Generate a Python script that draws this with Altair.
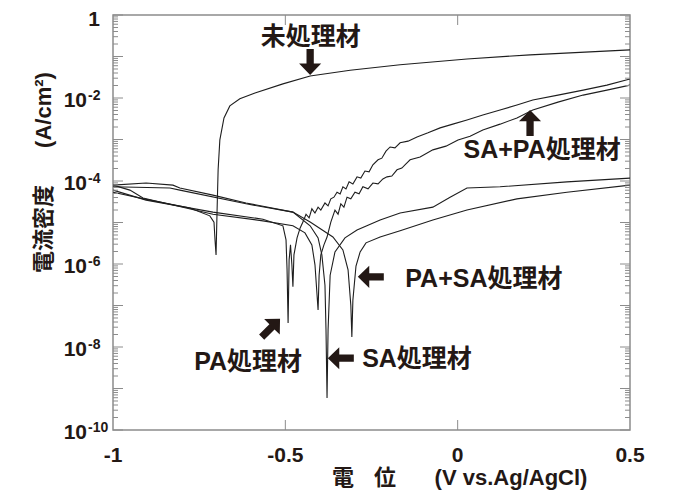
import altair as alt
import pandas as pd

# ---- data: potential (V vs Ag/AgCl) and log10 of current density (A/cm2) ----
ut_E = [-1.000, -0.893, -0.777, -0.719, -0.707, -0.704, -0.701, -0.698, -0.695, -0.690, -0.678, -0.661,
        -0.632, -0.588, -0.507, -0.428, -0.312, -0.167, 0.027, 0.210, 0.500]
ut_L = [-4.27, -4.46, -4.65, -4.84, -4.99, -5.42, -5.78, -4.70, -3.73, -3.01, -2.48, -2.19,
        -2.02, -1.88, -1.66, -1.47, -1.33, -1.20, -1.06, -0.96, -0.84]

pa_E = [-1.000, -0.904, -0.710, -0.565, -0.507, -0.498, -0.495, -0.492, -0.489, -0.485, -0.481, -0.478,
        -0.475, -0.466, -0.457,
        -0.449, -0.440, -0.431, -0.423, -0.414, -0.405, -0.397, -0.385, -0.376, -0.368,
        -0.359, -0.350, -0.341, -0.333, -0.324, -0.315, -0.304, -0.292, -0.281, -0.269,
        -0.257, -0.246, -0.231, -0.220, -0.208, -0.196, -0.182, -0.167, -0.144, -0.118,
        -0.086, -0.051, -0.014, 0.027, 0.073, 0.123, 0.172, 0.218, 0.291, 0.364, 0.433, 0.500]
pa_L = [-4.22, -4.46, -4.75, -4.92, -5.08, -5.42, -6.14, -7.42, -5.90, -5.54, -6.02, -6.55,
        -5.78, -5.37, -5.13,
        -4.99, -4.80, -4.89, -4.67, -4.77, -4.63, -4.70, -4.53, -4.60, -4.43,
        -4.39, -4.27, -4.31, -4.14, -4.19, -4.02, -4.07, -3.90, -3.93, -3.76,
        -3.78, -3.61, -3.49, -3.45, -3.28, -3.18, -3.20, -3.08, -3.04, -2.94,
        -2.84, -2.72, -2.63, -2.53, -2.41, -2.29, -2.17, -2.05, -1.93, -1.81, -1.69, -1.54]

sa_E = [-1.000, -0.904, -0.826, -0.806, -0.710, -0.614, -0.478, -0.428, -0.405, -0.394, -0.385, -0.382,
        -0.379, -0.376, -0.370, -0.356, -0.327, -0.292, -0.225, -0.167, -0.072, -0.022, 0.027, 0.123,
        0.317, 0.500]
sa_L = [-4.10, -4.05, -4.10, -4.17, -4.34, -4.53, -4.75, -5.08, -5.37, -5.78, -6.51, -7.59,
        -9.23, -7.59, -6.27, -5.71, -5.37, -5.18, -4.94, -4.77, -4.63, -4.39, -4.17, -4.14,
        -4.02, -3.93]

sp_E = [-1.000, -0.951, -0.913, -0.710, -0.565, -0.478, -0.443, -0.423, -0.414, -0.405, -0.402, -0.397,
        -0.388,
        -0.379, -0.368, -0.356, -0.347, -0.339, -0.330, -0.321, -0.310, -0.298, -0.286,
        -0.275, -0.260, -0.246, -0.231, -0.217, -0.205, -0.191, -0.176, -0.162, -0.150,
        -0.138, -0.109, -0.072, -0.034, 0.001, 0.036, 0.073, 0.123, 0.172, 0.218,
        0.291, 0.364, 0.433, 0.500]
sp_L = [-4.10, -4.22, -4.41, -4.80, -4.96, -5.08, -5.25, -5.54, -6.02, -7.11, -6.27, -5.78,
        -5.54,
        -5.35, -4.99, -4.70, -4.80, -4.55, -4.63, -4.39, -4.43, -4.27, -4.31,
        -4.14, -4.19, -4.05, -4.07, -3.95, -3.90, -3.88, -3.73, -3.69, -3.59,
        -3.49, -3.42, -3.25, -3.16, -3.01, -2.92, -2.77, -2.63, -2.48, -2.29,
        -2.10, -1.93, -1.81, -1.69]

ps_E = [-1.000, -0.835, -0.806, -0.614, -0.478, -0.428, -0.362, -0.333, -0.318, -0.310, -0.307, -0.304,
        -0.295, -0.283, -0.266, -0.225, -0.167, -0.072, 0.027, 0.172, 0.317, 0.500]
ps_L = [-4.14, -4.17, -4.22, -4.55, -4.75, -4.99, -5.35, -5.66, -6.14, -6.99, -7.76, -6.87,
        -6.05, -5.71, -5.49, -5.35, -5.20, -4.94, -4.70, -4.43, -4.27, -4.10]

series = [("未処理材", ut_E, ut_L), ("PA処理材", pa_E, pa_L), ("SA処理材", sa_E, sa_L),
          ("SA+PA処理材", sp_E, sp_L), ("PA+SA処理材", ps_E, ps_L)]

# tick labels
x_tick_values = [-1, -0.5, 0, 0.5]
x_tick_labels = ["-1", "-0.5", "0", "0.5"]
y_label_exps = [-2, -4, -6, -8, -10]

# annotations: (text, E, log10 J)
ann_text = ["未処理材", "SA+PA処理材", "PA+SA処理材", "SA処理材", "PA処理材"]
ann_text_E = [-0.426, 0.245, 0.076, -0.118, -0.608]
ann_text_L = [-0.53, -3.25, -6.36, -8.29, -8.36]
arrow_E = [-0.428, 0.210, -0.252, -0.339, -0.542]
arrow_L = [-1.13, -2.60, -6.31, -8.27, -7.54]
arrow_angle = [0, 180, 90, 90, 225]

# axis titles, split in pieces
x_title_parts = ["電", "位", "(V vs.Ag/AgCl)"]
y_title_parts = ["電流密度", "(A/cm²)"]

rows = []
for name, es, ls in series:
    assert len(es) == len(ls), name
    for i, (e, l) in enumerate(zip(es, ls)):
        rows.append({"series": name, "i": i, "E": e, "J": 10.0 ** l})
df = pd.DataFrame(rows)

W, H = 517, 415
LAT = "Liberation Sans, Noto Sans CJK JP, sans-serif"
INK = "#231815"
GRAY = "#8c8c8c"

xs = alt.Scale(domain=[-1, 0.5], nice=False, zero=False)
ys = alt.Scale(type="log", domain=[1e-10, 1], nice=False)
X = lambda f="E": alt.X(f"{f}:Q", scale=xs, axis=None)
Y = lambda f="J": alt.Y(f"{f}:Q", scale=ys, axis=None)

lines = alt.Chart(df).mark_line(color="#1e1e1e", strokeWidth=1.1, clip=True).encode(
    x=X(), y=Y(), detail="series:N", order="i:Q")

major = pd.DataFrame({"J": [10.0 ** k for k in range(-10, 1)]})
minor = pd.DataFrame({"J": [m * 10.0 ** k for k in range(-10, 0) for m in range(2, 10)]})
xt = pd.DataFrame({"E": [-0.5, 0.0]})

def yrule(d, x1, x2):
    return alt.Chart(d).mark_rule(color=GRAY, strokeWidth=1).encode(
        y=Y(), x=alt.value(x1), x2=alt.value(x2))

ticks = [yrule(major, 0, 10), yrule(major, W - 10, W), yrule(minor, 0, 5), yrule(minor, W - 5, W)]
for y1, y2 in [(H - 10, H), (0, 10)]:
    ticks.append(alt.Chart(xt).mark_rule(color=GRAY, strokeWidth=1).encode(
        x=X(), y=alt.value(y1), y2=alt.value(y2)))

ylab = pd.DataFrame({"J": [10.0 ** e for e in y_label_exps],
                     "base": ["10"] * len(y_label_exps),
                     "sup": [str(e) for e in y_label_exps]})
ybase = alt.Chart(ylab).mark_text(align="right", baseline="alphabetic", dy=9, fontSize=21,
                                  fontWeight="bold", font=LAT, color=INK).encode(
    x=alt.value(-26), y=Y(), text="base:N")
ysup = alt.Chart(ylab).mark_text(align="left", baseline="alphabetic", dy=2, fontSize=14,
                                 fontWeight="bold", font=LAT, color=INK).encode(
    x=alt.value(-25), y=Y(), text="sup:N")
yone = alt.Chart(pd.DataFrame({"J": [1.0], "t": ["1"]})).mark_text(
    align="right", baseline="alphabetic", dy=11, fontSize=21, fontWeight="bold", font=LAT,
    color=INK).encode(x=alt.value(-13), y=Y(), text="t:N")

xlab = alt.Chart(pd.DataFrame({"E": x_tick_values, "t": x_tick_labels})).mark_text(
    align="center", baseline="alphabetic", fontSize=21, fontWeight="bold", font=LAT,
    color=INK).encode(x=X(), y=alt.value(H + 32), text="t:N")

def label(text, px, py, size, angle=0):
    return alt.Chart(pd.DataFrame({"t": [text]})).mark_text(
        align="center", baseline="middle", fontSize=size, fontWeight="bold", font=LAT,
        angle=angle, color=INK).encode(x=alt.value(px), y=alt.value(py), text="t:N")

titles = [
    label(x_title_parts[0], 230, 463, 22),
    label(x_title_parts[1], 272, 463, 22),
    label(x_title_parts[2], 398, 463, 22),
    label(y_title_parts[0], -69, 214, 22, 270),
    label(y_title_parts[1], -69, 95, 22, 270),
]

ann = pd.DataFrame({"t": ann_text, "E": ann_text_E, "J": [10.0 ** l for l in ann_text_L]})
ann_layer = alt.Chart(ann).mark_text(align="center", baseline="middle", fontSize=25,
                                     fontWeight="bold", font=LAT, color=INK).encode(
    x=X(), y=Y(), text="t:N")

ARROW = "M-0.28,-1 L0.28,-1 L0.28,0.12 L0.85,0.12 L0,1 L-0.85,0.12 L-0.28,0.12 Z"
arr = pd.DataFrame({"E": arrow_E, "J": [10.0 ** l for l in arrow_L], "a": arrow_angle})
arrows = alt.Chart(arr).mark_point(shape=ARROW, filled=True, color=INK, opacity=1,
                                   strokeWidth=0).encode(
    x=X(), y=Y(), angle=alt.Angle("a:Q", scale=None), size=alt.value(676))

chart = alt.layer(lines, *ticks, ybase, ysup, yone, xlab, *titles, ann_layer, arrows).properties(
    width=W, height=H,
    padding={"left": 105, "top": 7, "right": 38, "bottom": 62},
    autosize=alt.AutoSizeParams(type="none"),
).configure_view(stroke=GRAY, strokeWidth=1.5)

chart.save("out.html", embed_options={"renderer": "svg", "actions": False})
